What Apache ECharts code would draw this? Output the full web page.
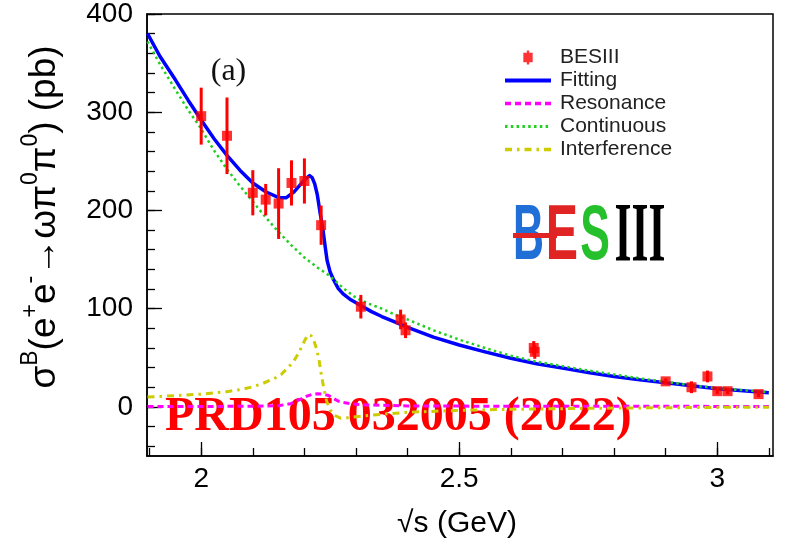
<!DOCTYPE html>
<html>
<head>
<meta charset="utf-8">
<script src="https://cdn.jsdelivr.net/npm/echarts@6/dist/echarts.min.js"></script>
<style>
  html, body { margin: 0; padding: 0; background: #fff; }
  #chart { width: 786px; height: 551px; }
</style>
</head>
<body>
<div id="chart"></div>
<script>
// Born cross section of e+e- -> omega pi0 pi0 (pb) vs sqrt(s) (GeV)
const energies = [2.0, 2.05, 2.1, 2.125, 2.15, 2.175, 2.2, 2.2324, 2.3094, 2.3864, 2.396, 2.6444, 2.6464, 2.9, 2.95, 2.981, 3.0, 3.02, 3.08];
const xsec     = [296, 276, 218, 211, 207, 228, 230, 185, 102, 89, 78, 60, 56, 26, 20, 31, 16, 16, 13];
const xsecErr  = [29, 39, 23, 16, 36, 23, 23, 20, 12, 10, 8, 7, 7, 3, 6, 6, 3, 3, 3];

// Fit result and its components, sampled along sqrt(s)
const fitX = [1.896, 1.92, 1.95, 1.975, 2.0, 2.025, 2.05, 2.075, 2.1, 2.125, 2.15, 2.165, 2.18, 2.195, 2.205, 2.21, 2.215, 2.22, 2.225, 2.23, 2.236, 2.24, 2.244, 2.25, 2.257, 2.265, 2.275, 2.29, 2.31, 2.33, 2.35, 2.375, 2.4, 2.45, 2.5, 2.55, 2.6, 2.65, 2.7, 2.75, 2.8, 2.85, 2.9, 2.95, 3.0, 3.05, 3.1];
const fitY = [380, 357, 333, 312, 292, 273, 256, 241, 228, 219, 213, 213, 219, 228, 233.5, 235.5, 233.5, 227, 216, 199, 180, 164, 149, 137, 129, 121, 115, 109, 103, 97, 92, 86.5, 81, 71, 63, 56, 49.5, 44, 39.5, 35, 31, 27.5, 24.5, 21.5, 18.5, 16.5, 14.5];

const contX = [1.896, 1.92, 1.95, 1.975, 2.0, 2.025, 2.05, 2.075, 2.1, 2.125, 2.15, 2.175, 2.2, 2.225, 2.25, 2.275, 2.3, 2.325, 2.35, 2.375, 2.4, 2.45, 2.5, 2.55, 2.6, 2.65, 2.7, 2.75, 2.8, 2.85, 2.9, 2.95, 3.0, 3.05, 3.1];
const contY = [372, 349, 323, 302, 283, 261, 242, 225, 209, 193, 178, 164.5, 152, 142, 133, 121, 111, 105, 100, 94, 89, 78, 68.5, 60, 52, 46, 41.5, 37, 33, 29, 25.5, 22, 19, 17, 15];

const resX = [1.896, 2.1, 2.15, 2.175, 2.195, 2.205, 2.215, 2.225, 2.235, 2.245, 2.255, 2.265, 2.275, 2.29, 2.32, 2.4, 2.6, 3.1];
const resY = [0.3, 0.6, 1.2, 3.5, 8.5, 11, 12.8, 13.3, 13, 12, 9, 6, 4.5, 3.2, 2, 1, 0.6, 0.5];

const intX = [1.896, 1.95, 2.0, 2.05, 2.08, 2.1, 2.12, 2.14, 2.155, 2.17, 2.18, 2.19, 2.2, 2.207, 2.213, 2.218, 2.223, 2.228, 2.233, 2.238, 2.243, 2.25, 2.258, 2.27, 2.285, 2.3, 2.35, 2.4, 2.5, 2.6, 2.7, 2.8, 3.0, 3.1];
const intY = [10, 11.5, 13, 15.5, 18, 20.5, 24, 28.5, 33, 41, 47, 56, 67, 73.5, 72.5, 68, 60, 49, 32, 18, 6, -3, -8.5, -11.5, -11, -10, -7.5, -5.5, -3.5, -2.5, -1.8, -1.2, -0.5, -0.3];

// Axis ticks
const xMajorTicks = [2, 2.5, 3];
const xMinorTicks = [1.9, 2.0, 2.1, 2.2, 2.3, 2.4, 2.5, 2.6, 2.7, 2.8, 2.9, 3.0, 3.1];
const yMajorTicks = [0, 100, 200, 300, 400];
const yMinorTicks = [-40, -20, 0, 20, 40, 60, 80, 100, 120, 140, 160, 180, 200, 220, 240, 260, 280, 300, 320, 340, 360, 380, 400];

const zip = (xs, ys) => xs.map((x, i) => [x, ys[i]]);

const X_MIN = 1.895, X_MAX = 3.108, Y_MIN = -50, Y_MAX = 400;
const SANS = 'Liberation Sans, Arial, Helvetica, sans-serif';
const SERIF = 'Liberation Serif, Times New Roman, serif';

const chart = echarts.init(document.getElementById('chart'), null, { renderer: 'canvas' });

const baseX = { type: 'value', min: X_MIN, max: X_MAX, position: 'bottom', splitLine: { show: false } };
const baseY = { type: 'value', min: Y_MIN, max: Y_MAX, position: 'left', splitLine: { show: false } };

// legend entries for curves: line only, no marker
const lineEntry = (name, width) => ({ name, itemStyle: { opacity: 0 }, lineStyle: { width } });

chart.setOption({
  animation: false,
  backgroundColor: '#fff',
  grid: {
    left: 147, right: 13, top: 14, bottom: 95,
    show: true, borderColor: '#000', borderWidth: 1.5, backgroundColor: 'transparent'
  },
  xAxis: [
    Object.assign({}, baseX, {
      axisLine: { show: true, onZero: false, lineStyle: { color: '#000', width: 1.5 } },
      axisTick: { show: true, inside: true, length: 14, customValues: xMajorTicks, lineStyle: { color: '#000', width: 1.3 } },
      axisLabel: { show: true, customValues: xMajorTicks, margin: 9, fontSize: 28, fontFamily: SANS, color: '#000',
                   formatter: v => String(v) }
    }),
    Object.assign({}, baseX, {
      axisLine: { show: false, onZero: false },
      axisTick: { show: true, inside: true, length: 8, customValues: xMinorTicks, lineStyle: { color: '#000', width: 1.3 } },
      axisLabel: { show: false }
    })
  ],
  yAxis: [
    Object.assign({}, baseY, {
      axisLine: { show: true, onZero: false, lineStyle: { color: '#000', width: 1.5 } },
      axisTick: { show: true, inside: true, length: 15, customValues: yMajorTicks, lineStyle: { color: '#000', width: 1.3 } },
      axisLabel: { show: true, customValues: yMajorTicks, margin: 14, fontSize: 28, fontFamily: SANS, color: '#000' }
    }),
    Object.assign({}, baseY, {
      axisLine: { show: false, onZero: false },
      axisTick: { show: true, inside: true, length: 8, customValues: yMinorTicks, lineStyle: { color: '#000', width: 1.3 } },
      axisLabel: { show: false }
    })
  ],
  legend: {
    orient: 'vertical',
    left: 503, top: 47, padding: 0,
    itemWidth: 46, itemHeight: 14, itemGap: 2,
    symbolKeepAspect: true,
    textStyle: { fontSize: 21, fontFamily: SANS, color: '#222', padding: [0, 0, 0, 4] },
    data: [
      { name: 'BESIII', icon: 'path://M3,0H5V2H8V10H5V12H3V10H0V2H3Z' },
      lineEntry('Fitting', 4), lineEntry('Resonance', 3.5), lineEntry('Continuous', 3), lineEntry('Interference', 3.5)
    ]
  },
  graphic: [
    {
      type: 'text', z: 0, silent: true,
      style: { text: 'PRD105 032005 (2022)', x: 165, y: 418, textVerticalAlign: 'middle',
               font: 'bold 48px ' + SERIF, fill: '#ff0000' }
    },
    {
      type: 'text', z: 10, silent: true,
      style: { text: '(a)', x: 228.5, y: 72, textAlign: 'center', textVerticalAlign: 'middle',
               font: '32px ' + SERIF, fill: '#111' }
    },
    // experiment logo
    { type: 'text', z: 10, silent: true, x: 528.5, y: 237, scaleX: 0.55,
      style: { text: 'B', x: 0, y: 0, textAlign: 'center', textVerticalAlign: 'middle', font: 'bold 78px ' + SANS, fill: '#1f6fd6' } },
    { type: 'text', z: 10, silent: true, x: 562, y: 237, scaleX: 0.62,
      style: { text: 'E', x: 0, y: 0, textAlign: 'center', textVerticalAlign: 'middle', font: 'bold 78px ' + SANS, fill: '#e02424' } },
    { type: 'text', z: 10, silent: true, x: 595, y: 237, scaleX: 0.57,
      style: { text: 'S', x: 0, y: 0, textAlign: 'center', textVerticalAlign: 'middle', font: 'bold 78px ' + SANS, fill: '#25c02c' } },
    { type: 'text', z: 10, silent: true, x: 640, y: 239, scaleX: 0.52,
      style: { text: 'III', x: 0, y: 0, textAlign: 'center', textVerticalAlign: 'middle', font: 'bold 84px ' + SERIF, fill: '#000' } },
    { type: 'rect', z: 11, silent: true, shape: { x: 513, y: 233, width: 44, height: 5 }, style: { fill: '#e02424' } },
    // y-axis title
    {
      type: 'text', z: 10, silent: true, x: 41, y: 217, rotation: Math.PI / 2,
      style: {
        text: '{m|σ}{s|B}{m|(e}{s|+}{m|e}{s|-}{m|→ωπ}{s|0}{m|π}{s|0}{m|) (pb)}',
        x: 0, y: 0, textAlign: 'center', textVerticalAlign: 'middle', fill: '#000',
        rich: {
          m: { fontSize: 37, fontFamily: SANS, lineHeight: 44, verticalAlign: 'bottom', fill: '#000' },
          s: { fontSize: 23, fontFamily: SANS, lineHeight: 44, verticalAlign: 'top', fill: '#000' }
        }
      }
    },
    // x-axis title
    {
      type: 'text', z: 10, silent: true,
      style: { text: '√s (GeV)', x: 457, y: 524, textAlign: 'center', textVerticalAlign: 'middle',
               font: '30px ' + SANS, fill: '#000' }
    }
  ],
  series: [
    {
      name: 'Fitting', type: 'line', xAxisIndex: 0, yAxisIndex: 0, z: 3,
      data: zip(fitX, fitY), showSymbol: false, symbol: 'none',
      lineStyle: { color: '#0000ff', width: 3.5, join: 'round' }, itemStyle: { color: '#0000ff' }
    },
    {
      name: 'Resonance', type: 'line', xAxisIndex: 0, yAxisIndex: 0, z: 4,
      data: zip(resX, resY), showSymbol: false, symbol: 'none',
      lineStyle: { color: '#ff00ff', width: 3, type: [6, 4] }, itemStyle: { color: '#ff00ff' }
    },
    {
      name: 'Continuous', type: 'line', xAxisIndex: 0, yAxisIndex: 0, z: 4,
      data: zip(contX, contY), showSymbol: false, symbol: 'none',
      lineStyle: { color: '#1fd01f', width: 2.5, type: [2.5, 3.3] }, itemStyle: { color: '#1fd01f' }
    },
    {
      name: 'Interference', type: 'line', xAxisIndex: 0, yAxisIndex: 0, z: 4,
      data: zip(intX, intY), showSymbol: false, symbol: 'none',
      lineStyle: { color: '#cccc00', width: 3, type: [7, 5, 2.5, 5] }, itemStyle: { color: '#cccc00' }
    },
    {
      name: 'BESIII errors', type: 'custom', xAxisIndex: 0, yAxisIndex: 0, z: 5,
      data: energies.map((e, i) => [e, xsec[i], xsecErr[i]]),
      renderItem: (params, api) => {
        const x = api.value(0), y = api.value(1), err = api.value(2);
        const top = api.coord([x, y + err]);
        const bot = api.coord([x, y - err]);
        return { type: 'line', shape: { x1: top[0], y1: top[1], x2: bot[0], y2: bot[1] },
                 style: { stroke: '#ff0000', lineWidth: 3 } };
      }
    },
    {
      name: 'BESIII', type: 'scatter', xAxisIndex: 0, yAxisIndex: 0, z: 6,
      data: zip(energies, xsec), symbol: 'rect', symbolSize: 10,
      itemStyle: { color: '#ff0000' }
    }
  ]
});
</script>
</body>
</html>
